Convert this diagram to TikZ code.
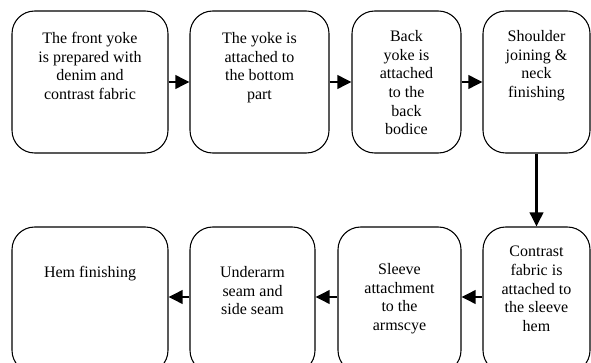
\documentclass[tikz,border=0pt]{standalone}
\usepackage{fontspec}
\setmainfont{Liberation Serif}
\usetikzlibrary{arrows.meta}

\begin{document}
\begin{tikzpicture}[x=0.75pt,y=-0.75pt]

\tikzset{
  stepbox/.style={
    draw,
    line width=0.8pt,
    rounded corners=17pt,
    minimum height=106.5pt,
    inner sep=0pt,
  },
  txt/.style={
    align=center,
    anchor=north,
    inner sep=0pt,
    font=\fontsize{12}{14}\selectfont,
  },
  flow/.style={
    line width=2pt,
    -{Triangle[length=10.5pt,width=10pt]},
  }
}

  \useasboundingbox (0,0) rectangle (591,363);

  % Top row
  \node[stepbox, minimum width=117pt]    (front)    at (90,82)    {};
  \node[stepbox, minimum width=104.25pt] (yoke)     at (259.5,82) {};
  \node[stepbox, minimum width=81.75pt]  (back)     at (406.5,82) {};
  \node[stepbox, minimum width=80.25pt]  (shoulder) at (536.5,82) {};

  % Bottom row (runs off the lower edge)
  \node[stepbox, minimum height=109.5pt, minimum width=80.25pt] (contrast) at (536.5,300) {};
  \node[stepbox, minimum height=109.5pt, minimum width=92.25pt] (sleeve)   at (399.5,300) {};
  \node[stepbox, minimum height=109.5pt, minimum width=93.75pt] (underarm) at (252.5,300) {};
  \node[stepbox, minimum height=109.5pt, minimum width=117pt]   (hem)      at (90,300)    {};

  % Texts
  \node[txt] (front text)    at (90,32)    {The front yoke\\is prepared with\\denim and\\contrast fabric};
  \node[txt] (yoke text)     at (259.5,32) {The yoke is\\attached to\\the bottom\\part};
  \node[txt] (back text)     at (406.5,30) {Back\\yoke is\\attached\\to the\\back\\bodice};
  \node[txt] (shoulder text) at (536.5,30) {Shoulder\\joining \&\\neck\\finishing};
  \node[txt] (contrast text) at (536.5,246) {Contrast\\fabric is\\attached to\\the sleeve\\hem};
  \node[txt] (sleeve text)   at (399.5,263) {Sleeve\\attachment\\to the\\armscye};
  \node[txt] (underarm text) at (252.5,266) {Underarm\\seam and\\side seam};
  \node[txt] (hem text)      at (90,266)    {Hem finishing};

  % Edges
  \draw[flow] (front) -- (yoke);
  \draw[flow] (yoke) -- (back);
  \draw[flow] (back) -- (shoulder);
  \draw[flow] (shoulder) -- (contrast);
  \draw[flow] ([yshift=2.25pt]contrast.west) -- ([yshift=2.25pt]sleeve.east);
  \draw[flow] ([yshift=2.25pt]sleeve.west) -- ([yshift=2.25pt]underarm.east);
  \draw[flow] ([yshift=2.25pt]underarm.west) -- ([yshift=2.25pt]hem.east);
\end{tikzpicture}
\end{document}
